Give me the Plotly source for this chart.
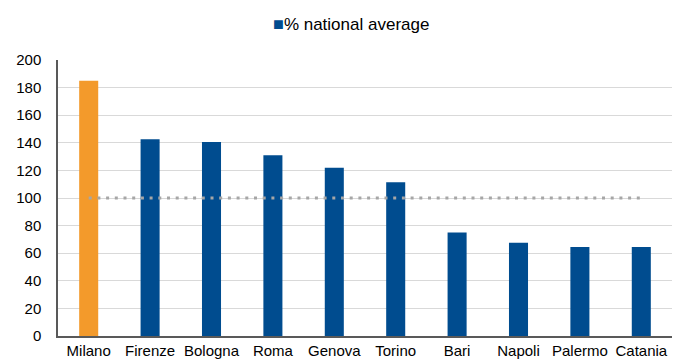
import plotly.graph_objects as go

# City income relative to the national average (national = 100)
cities = ["Milano", "Firenze", "Bologna", "Roma", "Genova", "Torino",
          "Bari", "Napoli", "Palermo", "Catania"]
pct_national = [185, 142.5, 140.5, 131, 122, 111.5, 75, 67.5, 64.5, 64.5]
national_level = [100] * len(cities)
highlight_city = "Milano"
series_name = "% national average"

BLUE = "#004C8F"
ORANGE = "#F39A2B"
FONT = "Liberation Sans, Arial, sans-serif"

hi_x = [c for c in cities if c == highlight_city]
hi_y = [v for c, v in zip(cities, pct_national) if c == highlight_city]
lo_x = [c for c in cities if c != highlight_city]
lo_y = [v for c, v in zip(cities, pct_national) if c != highlight_city]

fig = go.Figure()
fig.add_trace(go.Bar(x=lo_x, y=lo_y, name=series_name, showlegend=False,
                     marker=dict(color=BLUE, line=dict(width=0)),
                     width=0.31))
fig.add_trace(go.Bar(x=hi_x, y=hi_y, showlegend=False,
                     marker=dict(color=ORANGE, line=dict(width=0)),
                     width=0.31))
fig.add_trace(go.Scatter(x=cities, y=national_level, mode="lines",
                         showlegend=False,
                         line=dict(color="#A6A6A6", width=3, dash="3px,5.7px")))

# compact legend: coloured square right next to the series name
fig.add_annotation(
    xref="paper", yref="paper", x=0.477, y=1.13, xanchor="center", yanchor="middle",
    showarrow=False,
    text=f"<span style='color:{BLUE};font-size:18px'>■</span>{series_name}",
    font=dict(family=FONT, size=17, color="#000000"),
)

fig.update_layout(
    width=674, height=360,
    margin=dict(l=58, r=2, t=60, b=24),
    paper_bgcolor="white", plot_bgcolor="white",
    barmode="overlay",
    font=dict(family=FONT, size=15, color="#000000"),
    showlegend=False,
)
fig.update_xaxes(categoryorder="array", categoryarray=cities,
                 showline=True, linecolor="#595959", linewidth=1.5,
                 showgrid=False, ticks="", ticklabelstandoff=0,
                 automargin=False, tickfont=dict(size=15))
fig.update_yaxes(range=[0, 200], dtick=20, showline=True,
                 linecolor="#595959", linewidth=1.5,
                 showgrid=True, gridcolor="#D9D9D9", gridwidth=1,
                 zeroline=False, ticks="", ticklabelstandoff=12,
                 automargin=False, tickfont=dict(size=15))

fig.write_html("out.html")
